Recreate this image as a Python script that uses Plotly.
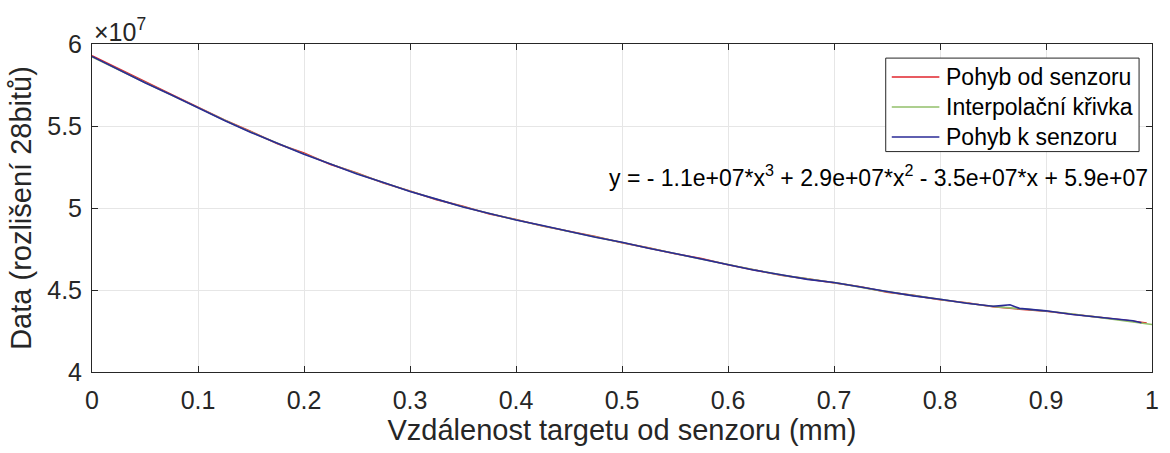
import plotly.graph_objects as go

# Measured distance (mm) and sensor data (x 1e7 counts)
x_od = [0.000, 0.025, 0.050, 0.075, 0.100, 0.125, 0.150, 0.175, 0.200, 0.225,
        0.250, 0.275, 0.300, 0.325, 0.350, 0.375, 0.400, 0.425, 0.450, 0.475,
        0.500, 0.525, 0.550, 0.575, 0.600, 0.625, 0.650, 0.675, 0.700, 0.725,
        0.750, 0.775, 0.800, 0.825, 0.850, 0.858, 0.866, 0.875, 0.900, 0.925,
        0.950, 0.975, 0.995]
y_od = [5.928, 5.848, 5.770, 5.692, 5.615, 5.537, 5.466, 5.392, 5.335, 5.266,
        5.214, 5.153, 5.104, 5.051, 5.011, 4.964, 4.930, 4.890, 4.858, 4.826,
        4.788, 4.757, 4.721, 4.692, 4.654, 4.624, 4.590, 4.568, 4.543, 4.520,
        4.487, 4.467, 4.441, 4.422, 4.398, 4.392, 4.389, 4.383, 4.370, 4.353,
        4.332, 4.316, 4.298]

x_k = [0.000, 0.025, 0.050, 0.075, 0.100, 0.125, 0.150, 0.175, 0.200, 0.225,
       0.250, 0.275, 0.300, 0.325, 0.350, 0.375, 0.400, 0.425, 0.450, 0.475,
       0.500, 0.525, 0.550, 0.575, 0.600, 0.625, 0.650, 0.675, 0.700, 0.725,
       0.750, 0.775, 0.800, 0.825, 0.850, 0.858, 0.866, 0.875, 0.900, 0.925,
       0.950, 0.975, 0.982, 0.990]
y_k = [5.924, 5.843, 5.764, 5.689, 5.611, 5.534, 5.461, 5.396, 5.328, 5.269,
       5.208, 5.156, 5.101, 5.054, 5.006, 4.967, 4.927, 4.893, 4.856, 4.822,
       4.791, 4.754, 4.723, 4.689, 4.656, 4.621, 4.593, 4.565, 4.546, 4.517,
       4.491, 4.464, 4.444, 4.419, 4.401, 4.405, 4.410, 4.388, 4.373, 4.351,
       4.334, 4.314, 4.313, 4.300]

# Fitted cubic, sampled along the axis
x_fit = [0.00, 0.05, 0.10, 0.15, 0.20, 0.25, 0.30, 0.35, 0.40, 0.45, 0.50,
         0.55, 0.60, 0.65, 0.70, 0.75, 0.80, 0.85, 0.90, 0.95, 1.00]
y_fit = [5.922, 5.765, 5.612, 5.463, 5.330, 5.210, 5.102, 5.008, 4.928, 4.857,
         4.790, 4.722, 4.655, 4.592, 4.545, 4.490, 4.443, 4.400, 4.372, 4.333,
         4.290]

x_ticks = [0, 0.1, 0.2, 0.3, 0.4, 0.5, 0.6, 0.7, 0.8, 0.9, 1]
x_ticktext = ["0", "0.1", "0.2", "0.3", "0.4", "0.5", "0.6", "0.7", "0.8", "0.9", "1"]
y_ticks = [4, 4.5, 5, 5.5, 6]
y_ticktext = ["4", "4.5", "5", "5.5", "6"]

series_names = ["Pohyb od senzoru", "Interpolační křivka", "Pohyb k senzoru"]
series_colors = ["#E0242C", "#92BF6A", "#2A2A96"]

equation = "y = - 1.1e+07*x<sup>3</sup> + 2.9e+07*x<sup>2</sup> - 3.5e+07*x + 5.9e+07"

FONT = "Liberation Sans, Arial, sans-serif"
AX = "#262626"

fig = go.Figure()
fig.add_trace(go.Scatter(x=x_od, y=y_od, mode="lines", name=series_names[0],
                         line=dict(color=series_colors[0], width=1.6)))
fig.add_trace(go.Scatter(x=x_fit, y=y_fit, mode="lines", name=series_names[1],
                         line=dict(color=series_colors[1], width=1.6, shape="spline")))
fig.add_trace(go.Scatter(x=x_k, y=y_k, mode="lines", name=series_names[2],
                         line=dict(color=series_colors[2], width=1.6)))

axis_common = dict(
    showline=True, linecolor=AX, linewidth=1, mirror="ticks",
    ticks="inside", ticklen=6, tickcolor=AX,
    showgrid=True, gridcolor="#E6E6E6", gridwidth=1,
    zeroline=False, tickfont=dict(family=FONT, size=25, color=AX),
)

# Legend box drawn in paper coordinates (upper right, inside the axes)
leg_x0, leg_x1 = 0.7488, 0.9878
leg_y0, leg_y1 = 0.672, 0.957
row_y = [0.8994, 0.8079, 0.7165]
line_x0, line_x1, text_x = 0.7545, 0.7994, 0.8035

shapes = [dict(type="rect", xref="paper", yref="paper",
               x0=leg_x0, x1=leg_x1, y0=leg_y0, y1=leg_y1,
               line=dict(color=AX, width=1), fillcolor="white", layer="above")]
annotations = []
for name, color, ry in zip(series_names, series_colors, row_y):
    shapes.append(dict(type="line", xref="paper", yref="paper",
                       x0=line_x0, x1=line_x1, y0=ry, y1=ry,
                       line=dict(color=color, width=1.6), layer="above"))
    annotations.append(dict(text=name, xref="paper", yref="paper",
                            x=text_x, y=ry, xanchor="left", yanchor="middle",
                            showarrow=False,
                            font=dict(family=FONT, size=23, color="black")))

annotations += [
    dict(text=equation, xref="paper", yref="paper", x=0.9985, y=0.598,
         xanchor="right", yanchor="middle", showarrow=False,
         font=dict(family=FONT, size=23, color="black")),
    dict(text="×10<sup>7</sup>", xref="paper", yref="paper", x=0.0, y=1.0,
         xanchor="left", yanchor="bottom", showarrow=False, yshift=-4,
         font=dict(family=FONT, size=25, color=AX)),
]

fig.update_layout(
    width=1170, height=453,
    margin=dict(l=92, r=11, t=44, b=81),
    paper_bgcolor="white", plot_bgcolor="white",
    font=dict(family=FONT, color=AX),
    showlegend=False,
    xaxis=dict(range=[0, 1], tickvals=x_ticks, ticktext=x_ticktext,
               ticklabelstandoff=6,
               title=dict(text="Vzdálenost targetu od senzoru (mm)",
                          font=dict(family=FONT, size=29, color=AX), standoff=5),
               **axis_common),
    yaxis=dict(range=[4, 6], tickvals=y_ticks, ticktext=y_ticktext,
               ticklabelstandoff=4,
               title=dict(text="Data (rozlišení 28bitů)",
                          font=dict(family=FONT, size=29, color=AX), standoff=7),
               **axis_common),
    shapes=shapes,
    annotations=annotations,
)

fig.write_html("out.html")
